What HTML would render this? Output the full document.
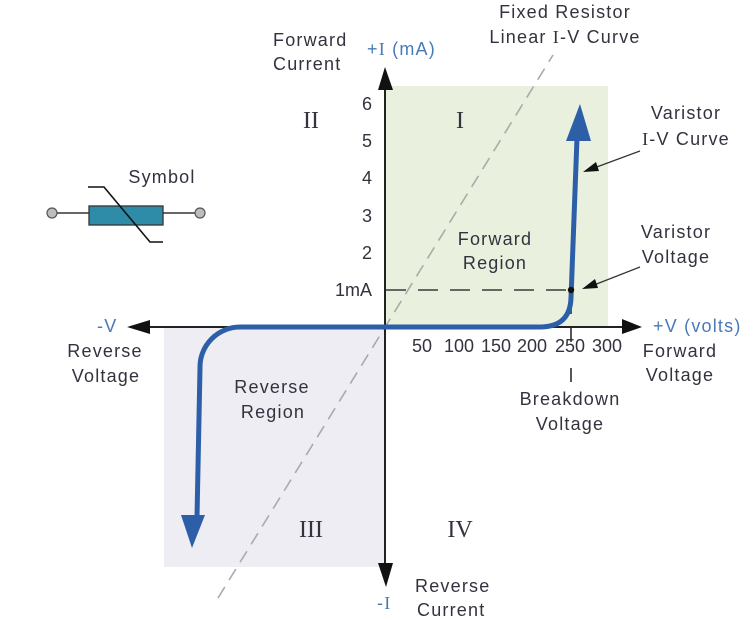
<!DOCTYPE html>
<html><head><meta charset="utf-8"><style>
html,body{margin:0;padding:0;background:#fff;}
svg{display:block;}
text{font-family:"Liberation Sans",sans-serif;}
.t{font-size:18px;letter-spacing:1.2px;fill:#33333f;}
.n{font-size:18px;fill:#33333f;}
.b{font-size:18px;letter-spacing:1.2px;fill:#4a79b8;}
.r{font-family:"Liberation Serif",serif;font-size:24px;fill:#33333f;}
.s{font-family:"Liberation Serif",serif;}
</style></head><body>
<svg width="756" height="620" viewBox="0 0 756 620" xmlns="http://www.w3.org/2000/svg">
<rect width="756" height="620" fill="#fff"/>
<rect x="386" y="86" width="222" height="240" fill="#e9f0de"/>
<rect x="164" y="328" width="221" height="239" fill="#eeedf3"/>
<line x1="218" y1="598" x2="553" y2="55" stroke="#aaaaaa" stroke-width="1.6" stroke-dasharray="13 8"/>
<line x1="386" y1="290" x2="571" y2="290" stroke="#666" stroke-width="2" stroke-dasharray="20 12"/>
<path d="M571 290 V314 M571 327 V342 M571 368 V382" stroke="#444" stroke-width="1.8" fill="none"/>
<!-- axes -->
<line x1="385" y1="88" x2="385" y2="565" stroke="#222" stroke-width="2"/>
<polygon points="378,90 393,90 385,67" fill="#111"/>
<polygon points="378,563 393,563 386,587" fill="#111"/>
<line x1="148" y1="327" x2="624" y2="327" stroke="#222" stroke-width="2"/>
<polygon points="622,319 622,334 642,327" fill="#111"/>
<polygon points="150,320 150,334 127,327" fill="#111"/>
<!-- blue curve -->
<path d="M197 517 L200 368 A40 40 0 0 1 240 327 L540 327 Q570 327 571 298 L577 138" stroke="#2c5fa8" stroke-width="5" fill="none" stroke-linejoin="round"/>
<polygon points="181,515 205,515 192,548" fill="#2c5fa8"/>
<polygon points="566,141 591,141 580,104" fill="#2c5fa8"/>
<circle cx="571" cy="290" r="3.2" fill="#111"/>
<!-- annotation arrows -->
<line x1="640" y1="151" x2="594" y2="168" stroke="#333" stroke-width="1.3"/>
<polygon points="583,172 596,162 599,171" fill="#111"/>
<line x1="640" y1="267" x2="594" y2="285" stroke="#333" stroke-width="1.3"/>
<polygon points="582,289 595,279 598,288" fill="#111"/>
<!-- symbol -->
<line x1="57" y1="213" x2="89" y2="213" stroke="#333" stroke-width="1.6"/>
<line x1="163" y1="213" x2="195" y2="213" stroke="#333" stroke-width="1.6"/>
<circle cx="52" cy="213" r="5" fill="#bdbdbd" stroke="#555" stroke-width="1.2"/>
<circle cx="200" cy="213" r="5" fill="#bdbdbd" stroke="#555" stroke-width="1.2"/>
<rect x="89" y="206" width="74" height="19" fill="#2f8ca8" stroke="#333" stroke-width="1.3"/>
<polyline points="88,187 104,187 150,242 163,242" fill="none" stroke="#111" stroke-width="1.6"/>
<text class="t" x="162" y="183" text-anchor="middle">Symbol</text>
<!-- labels -->
<text class="t" x="273" y="46">Forward</text>
<text class="t" x="273" y="70">Current</text>
<text class="b" x="367" y="55">+<tspan class="s">I</tspan> (mA)</text>
<text class="t" x="565" y="18" text-anchor="middle">Fixed Resistor</text>
<text class="t" x="565" y="43" text-anchor="middle">Linear <tspan class="s">I</tspan>-V Curve</text>
<text class="r" x="311" y="128" text-anchor="middle">II</text>
<text class="r" x="460" y="128" text-anchor="middle">I</text>
<text class="t" x="686" y="119" text-anchor="middle">Varistor</text>
<text class="t" x="686" y="145" text-anchor="middle"><tspan class="s">I</tspan>-V Curve</text>
<text class="t" x="495" y="245" text-anchor="middle">Forward</text>
<text class="t" x="495" y="269" text-anchor="middle">Region</text>
<text class="t" x="676" y="238" text-anchor="middle">Varistor</text>
<text class="t" x="676" y="263" text-anchor="middle">Voltage</text>
<g class="n" text-anchor="end">
<text class="n" x="372" y="110" text-anchor="end">6</text>
<text class="n" x="372" y="147" text-anchor="end">5</text>
<text class="n" x="372" y="184" text-anchor="end">4</text>
<text class="n" x="372" y="222" text-anchor="end">3</text>
<text class="n" x="372" y="259" text-anchor="end">2</text>
<text class="n" x="372" y="296" text-anchor="end">1mA</text>
</g>
<text class="n" x="422" y="352" text-anchor="middle">50</text>
<text class="n" x="459" y="352" text-anchor="middle">100</text>
<text class="n" x="496" y="352" text-anchor="middle">150</text>
<text class="n" x="532" y="352" text-anchor="middle">200</text>
<text class="n" x="570" y="352" text-anchor="middle">250</text>
<text class="n" x="607" y="352" text-anchor="middle">300</text>
<text class="b" x="653" y="332">+V (volts)</text>
<text class="t" x="680" y="357" text-anchor="middle">Forward</text>
<text class="t" x="680" y="381" text-anchor="middle">Voltage</text>
<text class="t" x="570" y="405" text-anchor="middle">Breakdown</text>
<text class="t" x="570" y="430" text-anchor="middle">Voltage</text>
<text class="b" x="97" y="332">-V</text>
<text class="t" x="105" y="357" text-anchor="middle">Reverse</text>
<text class="t" x="106" y="382" text-anchor="middle">Voltage</text>
<text class="t" x="272" y="393" text-anchor="middle">Reverse</text>
<text class="t" x="273" y="418" text-anchor="middle">Region</text>
<text class="r" x="311" y="537" text-anchor="middle">III</text>
<text class="r" x="460" y="537" text-anchor="middle">IV</text>
<text class="t" x="415" y="592">Reverse</text>
<text class="t" x="417" y="616">Current</text>
<text class="b" x="377" y="609">-<tspan class="s">I</tspan></text>
</svg>
</body></html>
